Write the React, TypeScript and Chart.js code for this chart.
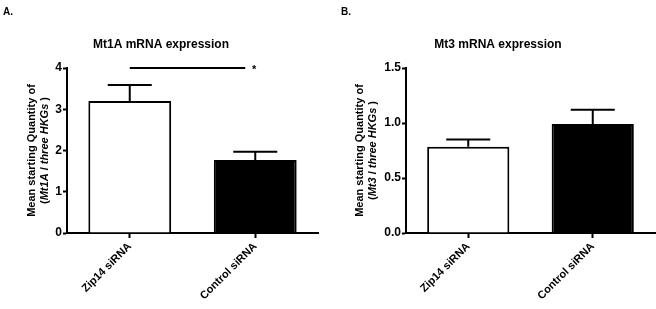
import React, { useEffect, useRef } from "react";
import { Chart, registerables } from "chart.js";

Chart.register(...registerables);

const categories = ["Zip14 siRNA", "Control siRNA"];
const mt1aMeans = [3.2, 1.77];
const mt1aErrors = [0.39, 0.2];
const mt3Means = [0.785, 0.99];
const mt3Errors = [0.065, 0.13];
const mt1aTicks = { min: 0, max: 4, step: 1, decimals: 0 };
const mt3Ticks = { min: 0, max: 1.5, step: 0.5, decimals: 1 };

const FONT = '"Liberation Sans", Arial, sans-serif';

type PanelProps = {
  means: number[];
  errors: number[];
  ticks: { min: number; max: number; step: number; decimals: number };
  title: string;
  titleX: number;
  panelLabel: string;
  gene: string;
  yWidth: number;
  padRight: number;
  sig: boolean;
  left: number;
};

function Panel(p: PanelProps) {
  const ref = useRef<HTMLCanvasElement | null>(null);
  useEffect(() => {
    const canvas = ref.current;
    if (!canvas) return;
    const extras = {
      id: "extras",
      afterDatasetsDraw(chart: any) {
        const ctx = chart.ctx;
        const ys = chart.scales.y;
        const xs = chart.scales.x;
        const meta = chart.getDatasetMeta(0);
        ctx.save();
        ctx.strokeStyle = "#000";
        ctx.lineWidth = 2;
        meta.data.forEach((bar: any, i: number) => {
          const top = ys.getPixelForValue(p.means[i] + p.errors[i]);
          ctx.beginPath();
          ctx.moveTo(bar.x, bar.y);
          ctx.lineTo(bar.x, top);
          ctx.moveTo(bar.x - 22, top);
          ctx.lineTo(bar.x + 22, top);
          ctx.stroke();
        });
        if (p.sig) {
          const y = ys.getPixelForValue(p.ticks.max);
          const x0 = xs.getPixelForValue(0);
          const x1 = xs.getPixelForValue(1);
          ctx.beginPath();
          ctx.moveTo(x0, y);
          ctx.lineTo(x1 - 10, y);
          ctx.stroke();
          ctx.fillStyle = "#000";
          ctx.font = `bold 11px ${FONT}`;
          ctx.textAlign = "center";
          ctx.textBaseline = "middle";
          ctx.fillText("*", x1 - 1, y + 2);
        }
        ctx.restore();
      },
      afterDraw(chart: any) {
        const ctx = chart.ctx;
        const area = chart.chartArea;
        ctx.save();
        ctx.fillStyle = "#000";
        // panel label
        ctx.font = `bold 10px ${FONT}`;
        ctx.textAlign = "left";
        ctx.textBaseline = "middle";
        ctx.fillText(p.panelLabel, p.panelLabel === "A." ? 3 : 13, 12);
        // title
        ctx.font = `bold 12px ${FONT}`;
        ctx.textAlign = "center";
        ctx.fillText(p.title, p.titleX, 45);
        // y title
        const cy = (area.top + area.bottom) / 2;
        ctx.translate(0, cy);
        ctx.rotate(-Math.PI / 2);
        ctx.font = `bold 11px ${FONT}`;
        ctx.textAlign = "center";
        ctx.fillText("Mean starting Quantity of", 0, 32);
        const segs: [string, boolean][] = [
          ["(", false],
          [p.gene, true],
          [" / ", false],
          ["three HKGs", true],
          [" )", false],
        ];
        let total = 0;
        segs.forEach(([t, it]) => {
          ctx.font = `${it ? "italic " : ""}bold 11px ${FONT}`;
          total += ctx.measureText(t).width;
        });
        let x = -total / 2;
        ctx.textAlign = "left";
        segs.forEach(([t, it]) => {
          ctx.font = `${it ? "italic " : ""}bold 11px ${FONT}`;
          ctx.fillText(t, x, 45);
          x += ctx.measureText(t).width;
        });
        ctx.restore();
      },
    };
    const chart = new Chart(canvas, {
      type: "bar",
      data: {
        labels: categories,
        datasets: [
          {
            data: p.means,
            backgroundColor: ["#ffffff", "#000000"],
            borderColor: "#000000",
            borderWidth: 2,
            borderSkipped: "start",
            barPercentage: 0.66,
            categoryPercentage: 1,
          },
        ],
      },
      options: {
        responsive: false,
        animation: false,
        layout: { padding: { top: 68, right: p.padRight, bottom: 0, left: 0 } },
        plugins: { legend: { display: false }, tooltip: { enabled: false }, title: { display: false } },
        scales: {
          x: {
            type: "category",
            offset: true,
            grid: {
              display: true,
              drawOnChartArea: false,
              drawTicks: true,
              tickLength: 5,
              tickWidth: 2,
              tickColor: "#000",
              offset: false,
            },
            border: { color: "#000", width: 2 },
            ticks: {
              color: "#000",
              font: { family: FONT, size: 11, weight: "bold" },
              minRotation: 45,
              maxRotation: 45,
              padding: 2,
            },
            afterFit: (s: any) => {
              s.height = 76;
            },
          },
          y: {
            min: p.ticks.min,
            max: p.ticks.max,
            grid: {
              display: true,
              drawOnChartArea: false,
              drawTicks: true,
              tickLength: 4,
              tickWidth: 2,
              tickColor: "#000",
            },
            border: { color: "#000", width: 2 },
            ticks: {
              stepSize: p.ticks.step,
              color: "#000",
              font: { family: FONT, size: 12, weight: "bold" },
              padding: 1,
              callback: (v: any) => Number(v).toFixed(p.ticks.decimals),
            },
            afterFit: (s: any) => {
              s.width = p.yWidth;
            },
          },
        },
      } as any,
      plugins: [extras],
    });
    return () => chart.destroy();
  }, []);
  return (
    <canvas
      ref={ref}
      width={328}
      height={309}
      style={{ position: "absolute", left: p.left, top: 0, width: 328, height: 309 }}
    />
  );
}

export default function App() {
  return (
    <div style={{ position: "absolute", left: 0, top: 0, width: 656, height: 309, background: "#fff" }}>
      <Panel
        means={mt1aMeans}
        errors={mt1aErrors}
        ticks={mt1aTicks}
        title="Mt1A mRNA expression"
        titleX={161}
        panelLabel="A."
        gene="Mt1A"
        yWidth={67}
        padRight={10}
        sig={true}
        left={0}
      />
      <Panel
        means={mt3Means}
        errors={mt3Errors}
        ticks={mt3Ticks}
        title="Mt3 mRNA expression"
        titleX={170}
        panelLabel="B."
        gene="Mt3"
        yWidth={78}
        padRight={1}
        sig={false}
        left={328}
      />
    </div>
  );
}
